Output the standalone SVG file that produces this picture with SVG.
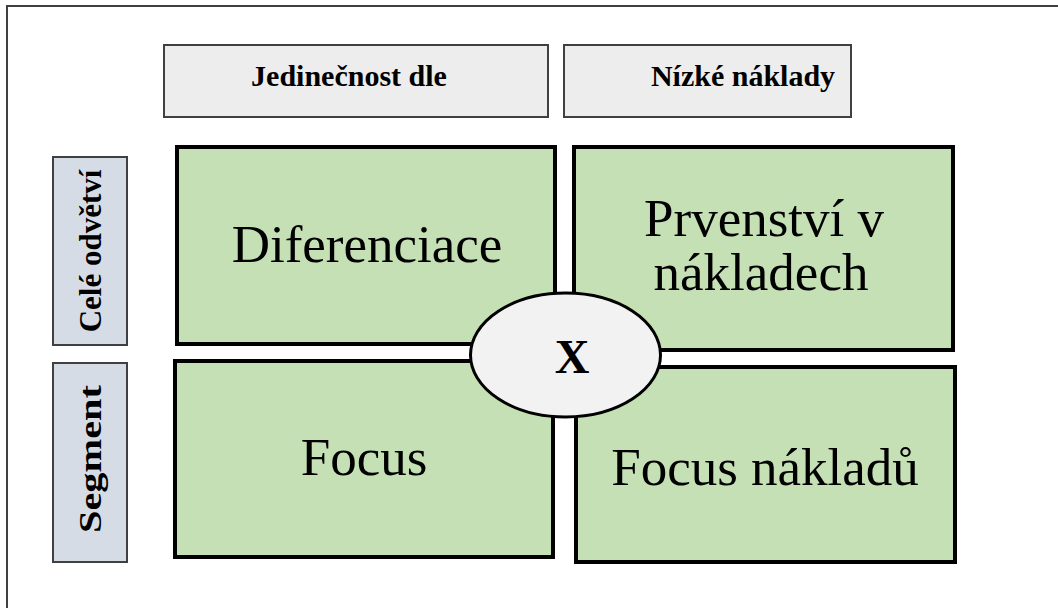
<svg xmlns="http://www.w3.org/2000/svg" width="1058" height="608" viewBox="0 0 1058 608">
<style>
.frame{fill:none;stroke:#404040;stroke-width:2}
.hdr{fill:#ededed;stroke:#404040;stroke-width:2}
.side{fill:#d6dce5;stroke:#404040;stroke-width:2}
.q{fill:#c5e0b4;stroke:#000;stroke-width:4}
.ell{fill:#f2f2f2;stroke:#000;stroke-width:3}
.bt{font-family:"Liberation Serif","Times New Roman",serif;font-weight:bold;fill:#000}
.mt{font-family:"Liberation Serif","Times New Roman",serif;font-size:53px;fill:#000;text-anchor:middle}
</style>
<rect x="0" y="0" width="1058" height="608" fill="#fff"/>
<rect class="frame" x="7" y="6" width="1100" height="700"/>
<g id="hdr-jedinecnost">
<rect class="hdr" x="164" y="45" width="384" height="72"/>
<text class="bt" x="349" y="86" font-size="30" text-anchor="middle">Jedinečnost dle</text>
</g>
<g id="hdr-naklady">
<rect class="hdr" x="564" y="45" width="287" height="72"/>
<text class="bt" x="743" y="86" font-size="30" text-anchor="middle">Nízké náklady</text>
</g>
<g id="side-cele">
<rect class="side" x="53" y="157" width="74" height="188"/>
<text class="bt" transform="translate(101,251) rotate(-90)" font-size="31" text-anchor="middle">Celé odvětví</text>
</g>
<g id="side-segment">
<rect class="side" x="53" y="363" width="74" height="199"/>
<text class="bt" transform="translate(101,459) rotate(-90)" font-size="31" text-anchor="middle" textLength="148" lengthAdjust="spacingAndGlyphs">Segment</text>
</g>
<g id="q-diferenciace">
<rect class="q" x="177" y="147" width="378" height="197"/>
<text class="mt" x="367" y="262">Diferenciace</text>
</g>
<g id="q-prvenstvi">
<rect class="q" x="574" y="147" width="379" height="203"/>
<text class="mt" x="764" y="236">Prvenství v</text>
<text class="mt" x="761" y="290">nákladech</text>
</g>
<g id="q-focus">
<rect class="q" x="175" y="361" width="378" height="196"/>
<text class="mt" x="364" y="475">Focus</text>
</g>
<g id="q-focus-nakladu">
<rect class="q" x="576" y="367" width="379" height="195"/>
<text class="mt" x="765" y="485">Focus nákladů</text>
</g>
<g id="center-x">
<ellipse class="ell" cx="565.5" cy="355" rx="95" ry="62"/>
<text class="bt" x="572" y="373" font-size="48" text-anchor="middle">X</text>
</g>
<g id="connectors"></g>
</svg>
